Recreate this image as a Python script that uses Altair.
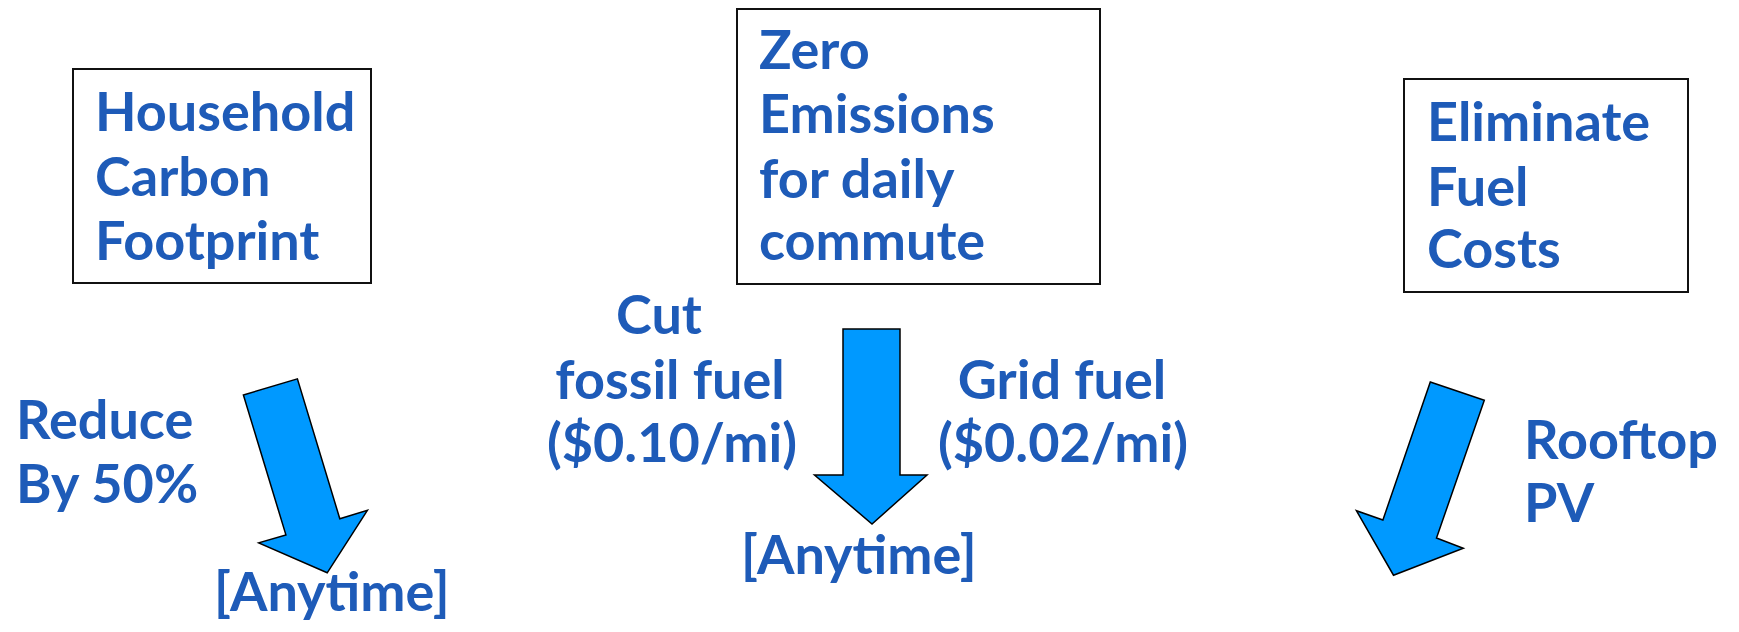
import altair as alt
import pandas as pd

# ---- text content ----
left_labels = ["Household", "Carbon", "Footprint",
               "Zero", "Emissions", "for daily", "commute",
               "Eliminate", "Fuel", "Costs",
               "Reduce", "By 50%",
               "Rooftop", "PV",
               "[Anytime]", "[Anytime]"]
left_x = [95, 95, 95, 759, 759, 759, 759, 1427, 1427, 1427, 16, 16, 1524, 1524, 214, 741]
left_y = [131, 195.5, 260, 68.5, 133, 197.5, 260, 141, 205.5, 268, 438.5, 503, 459, 522, 611, 574]

center_labels = ["Cut", "fossil fuel", "($0.10/mi)", "Grid fuel", "($0.02/mi)"]
center_x = [659, 670, 672, 1062, 1063]
center_y = [334, 399, 461.5, 399, 461.5]

# ---- boxes ----
box_x1 = [73, 737, 1404]
box_x2 = [371, 1100, 1688]
box_y1 = [69, 9, 79]
box_y2 = [283, 284, 292]

# ---- arrows (outline points) ----
arrow_left = [(243.4, 395), (297.4, 378.9), (339.8, 518.7), (367.4, 510.3),
              (327.2, 572.8), (258.7, 542.9), (285.9, 534.9)]
arrow_mid = [(843, 329), (900, 329), (900, 475), (927, 475),
             (872, 524), (814.5, 475), (843, 475)]
arrow_right = [(1430.3, 382), (1484.3, 400.2), (1436.5, 538), (1463.3, 548.2),
               (1393.5, 575.2), (1356.4, 510.7), (1382.9, 520)]

W, H = 1723, 616
FONT = "Lato"
SIZE = 54
BLUE = "#1E5BB8"

xs = alt.Scale(domain=[8, 8 + W], nice=False, zero=False)
ys = alt.Scale(domain=[8, 8 + H], nice=False, zero=False, reverse=True)

boxes = pd.DataFrame({"x1": box_x1, "x2": box_x2, "y1": box_y1, "y2": box_y2})
rects = alt.Chart(boxes).mark_rect(fill="white", stroke="#111111", strokeWidth=2).encode(
    x=alt.X("x1:Q", scale=xs, axis=None),
    x2="x2:Q",
    y=alt.Y("y1:Q", scale=ys, axis=None),
    y2="y2:Q",
)

def feature(pts):
    ring = [list(p) for p in pts] + [list(pts[0])]
    return {"type": "Feature", "properties": {},
            "geometry": {"type": "Polygon", "coordinates": [ring]}}

arrows = alt.Chart(alt.Data(values=[feature(arrow_left), feature(arrow_mid), feature(arrow_right)])).mark_geoshape(
    fill="#0099FF", stroke="black", strokeWidth=1.5
).project(type="identity", scale=1, translate=[-8, -8])

tl = pd.DataFrame({"t": left_labels, "x": left_x, "y": left_y})
text_left = alt.Chart(tl).mark_text(
    align="left", baseline="alphabetic", font=FONT, fontSize=SIZE, fontWeight="bold", color=BLUE
).encode(x=alt.X("x:Q", scale=xs, axis=None), y=alt.Y("y:Q", scale=ys, axis=None), text="t:N")

tc = pd.DataFrame({"t": center_labels, "x": center_x, "y": center_y})
text_center = alt.Chart(tc).mark_text(
    align="center", baseline="alphabetic", font=FONT, fontSize=SIZE, fontWeight="bold", color=BLUE
).encode(x=alt.X("x:Q", scale=xs, axis=None), y=alt.Y("y:Q", scale=ys, axis=None), text="t:N")

chart = alt.layer(rects, arrows, text_left, text_center).properties(
    width=W, height=H, padding=0, autosize=alt.AutoSizeParams(type="none"), background="white"
).configure_view(stroke=None)

chart.save("out.html", embed_options={"renderer": "svg", "actions": False})
